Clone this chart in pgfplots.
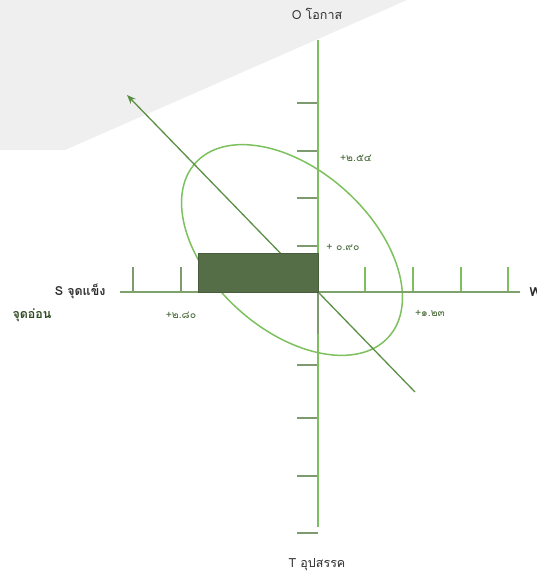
\documentclass[border=0pt]{standalone}
\usepackage{pgfplots}
\pgfplotsset{compat=1.18}
\usepackage{fontspec}
\setmainfont{Loma}[Script=Thai]
\usetikzlibrary{arrows.meta}
\definecolor{bgray}{HTML}{EFEFEF}
\definecolor{axgreen}{HTML}{7DBF5E}
\definecolor{tickgreen}{HTML}{7E9B70}
\definecolor{boxgreen}{HTML}{566E48}
\definecolor{arrowgreen}{HTML}{5B8F44}
\definecolor{ellgreen}{HTML}{7CC15E}
\definecolor{numgreen}{HTML}{4A6B3A}
\definecolor{lbl}{HTML}{2E2E2E}
\definecolor{weakc}{HTML}{2F4A22}
\begin{document}
\begin{tikzpicture}
\begin{axis}[
  x=1pt, y=1pt, scale only axis,
  xmin=0, xmax=537, ymin=0, ymax=576,
  enlargelimits=false,
  axis lines=none,
  clip=false,
]
% background band
\addplot[fill=bgray, draw=none] coordinates {(0,576) (407,576) (65,426) (0,426)} -- cycle;
% horizontal axis ticks (above)
\addplot[tickgreen, line width=1.2pt] coordinates {(133,284) (133,309)};
\addplot[tickgreen, line width=1.2pt] coordinates {(181,284) (181,309)};
\addplot[tickgreen, line width=1.2pt] coordinates {(228,284) (228,309)};
\addplot[tickgreen, line width=1.2pt] coordinates {(274,284) (274,309)};
\addplot[axgreen, line width=1.2pt] coordinates {(365,284) (365,309)};
\addplot[axgreen, line width=1.2pt] coordinates {(413,284) (413,309)};
\addplot[axgreen, line width=1.2pt] coordinates {(461,284) (461,309)};
\addplot[axgreen, line width=1.2pt] coordinates {(508,284) (508,309)};
% vertical axis ticks (left)
\addplot[tickgreen, line width=1.2pt] coordinates {(297,473) (318,473)};
\addplot[tickgreen, line width=1.2pt] coordinates {(297,425) (318,425)};
\addplot[tickgreen, line width=1.2pt] coordinates {(297,378) (318,378)};
\addplot[tickgreen, line width=1.2pt] coordinates {(297,330) (318,330)};
\addplot[tickgreen, line width=1.2pt] coordinates {(297,211) (318,211)};
\addplot[tickgreen, line width=1.2pt] coordinates {(297,158) (318,158)};
\addplot[tickgreen, line width=1.2pt] coordinates {(297,100) (318,100)};
\addplot[tickgreen, line width=1.2pt] coordinates {(297,43) (318,43)};
% ellipse
\draw[ellgreen, line width=1.5pt, rotate around={-42:(axis cs:292,326)}] (axis cs:292,326) ellipse [x radius=130, y radius=80];
% strategy arrow
\addplot[arrowgreen, line width=1.3pt, -{Stealth[length=9pt,width=7pt]}] coordinates {(415,184) (127,481)};
% axes
\addplot[tickgreen!80!axgreen, line width=1.3pt] coordinates {(120,284) (520,284)};
\addplot[axgreen, line width=1.5pt] coordinates {(318,536) (318,49)};
\addplot[tickgreen, line width=1.5pt] coordinates {(318,284) (318,242)};
% strength/opportunity box
\addplot[fill=boxgreen, draw=boxgreen!85!black, line width=0.6pt] coordinates {(198,284) (318,284) (318,323) (198,323)} -- cycle;
% labels
\node[lbl, font=\fontsize{12.5}{14}\selectfont] at (axis cs:317,562) {O โอกาส};
\node[lbl, font=\fontsize{12.5}{14}\selectfont] at (axis cs:317,11) {T อุปสรรค};
\node[lbl, anchor=east, font=\fontsize{12.5}{14}\selectfont\bfseries] at (axis cs:109,285) {S จุดแข็ง};
\node[weakc, anchor=west, font=\fontsize{12.5}{14}\selectfont\bfseries] at (axis cs:9,261) {จุดอ่อน};
\node[lbl, anchor=west, font=\fontsize{12.5}{14}\selectfont\bfseries] at (axis cs:526,284) {W};
\node[numgreen, font=\fontsize{10.5}{12}\selectfont] at (axis cs:356,418) {+๒.๕๔};
\node[numgreen, font=\fontsize{10.5}{12}\selectfont] at (axis cs:343,329) {+ ๐.๙๐};
\node[numgreen, font=\fontsize{10.5}{12}\selectfont] at (axis cs:181,261) {+๒.๘๐};
\node[numgreen, font=\fontsize{10.5}{12}\selectfont] at (axis cs:430,263) {+๑.๒๓};
\end{axis}
\pgfresetboundingbox
\useasboundingbox (current axis.south west) rectangle (current axis.north east);
\end{tikzpicture}
\end{document}
